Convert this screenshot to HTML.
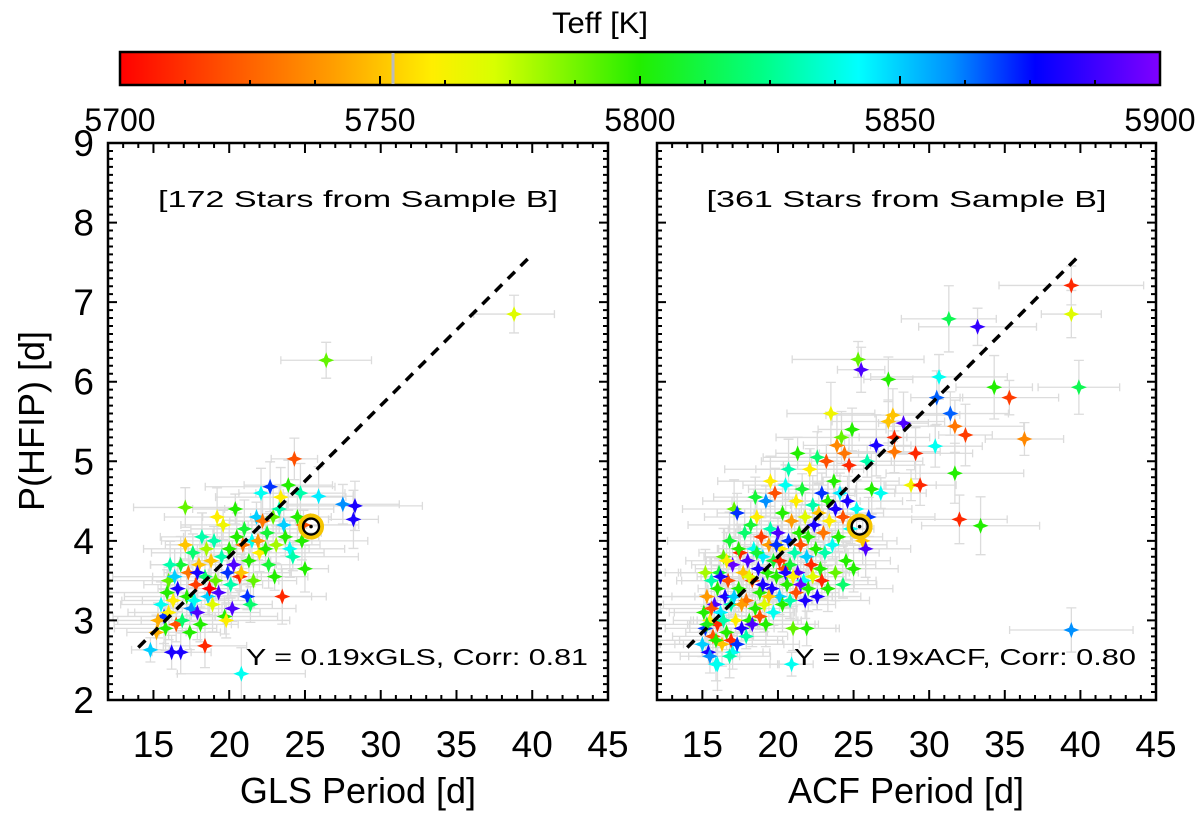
<!DOCTYPE html>
<html><head><meta charset="utf-8">
<style>
html,body{margin:0;padding:0;background:#fff;}
svg{display:block;font-family:"Liberation Sans",sans-serif;}
</style></head>
<body>
<svg id="fig" width="1200" height="820" viewBox="0 0 1200 820" xmlns="http://www.w3.org/2000/svg">
<defs>
<linearGradient id="cbgrad" x1="0" x2="1" y1="0" y2="0">
<stop offset="0" stop-color="#ff0000"/>
<stop offset="0.1" stop-color="#ff5000"/>
<stop offset="0.2" stop-color="#ff9a00"/>
<stop offset="0.3" stop-color="#ffee00"/>
<stop offset="0.36" stop-color="#d8ff00"/>
<stop offset="0.5" stop-color="#22ee00"/>
<stop offset="0.62" stop-color="#00ff88"/>
<stop offset="0.71" stop-color="#00ffff"/>
<stop offset="0.8" stop-color="#0090ff"/>
<stop offset="0.88" stop-color="#0000ff"/>
<stop offset="1" stop-color="#8000ff"/>
</linearGradient>
</defs>
<text x="600" y="33" font-size="30" text-anchor="middle" textLength="96" lengthAdjust="spacingAndGlyphs">Teff [K]</text>
<g id="cbar"></g>
<g id="panelL"></g>
<g id="panelR"></g>
<text transform="translate(44,421) rotate(-90)" font-size="36" text-anchor="middle">P(HFIP) [d]</text>
<text x="358" y="803" font-size="36" text-anchor="middle">GLS Period [d]</text>
<text x="906" y="803" font-size="36" text-anchor="middle">ACF Period [d]</text>
</svg>
<script>
// ---- data ----
const teffTicks = [5700, 5750, 5800, 5850, 5900];
const xTicks = [15, 20, 25, 30, 35, 40, 45];
const yTicks = [2, 3, 4, 5, 6, 7, 8, 9];
const fitSlope = 0.19;
const fitRange = [14, 40];
const sunPoint = [25.4, 4.18];

const glsX = [14.8,15.2,15.5,15.7,16.0,16.2,16.8,16.0,16.3,16.5,16.6,16.8,16.9,17.1,17.2,17.3,17.5,17.6,17.8,17.9,18.0,18.1,18.4,18.4,18.5,18.6,18.8,18.9,19.0,19.1,19.3,19.5,19.6,19.7,19.9,20.0,20.1,20.3,20.5,20.8,20.7,20.8,20.9,21.0,21.2,21.3,21.5,21.6,21.8,22.0,22.1,22.2,22.4,22.5,22.7,22.9,23.0,23.1,23.3,23.4,23.6,23.7,23.9,24.0,24.2,24.3,24.5,24.7,24.9,24.8,25.0,25.9,26.4,27.5,28.3,28.2,38.8,15.3,15.8,16.4,17.1,17.4,18.2,19.2,20.2,21.4,22.6,23.5,17.7,19.8,16.1,18.7,20.4,21.9,15.9,17.9];
const glsY = [2.63,2.85,3.2,3.05,3.5,2.6,2.6,3.1,3.25,2.95,3.4,3.7,3.0,4.42,3.3,3.6,3.15,3.85,3.45,3.1,3.7,2.95,2.68,3.55,3.9,3.3,3.75,3.2,4.0,3.5,3.35,3.8,4.2,3.05,3.6,3.9,3.45,3.7,4.05,2.33,3.55,3.6,3.95,4.15,3.3,3.75,4.0,3.5,4.3,3.85,4.6,4.25,3.9,4.1,4.68,4.3,3.55,3.95,4.4,4.55,4.2,4.05,4.7,3.9,3.8,5.03,4.3,4.6,4.2,4.0,3.65,4.56,6.27,4.46,4.44,4.27,6.85,3.0,2.9,3.55,3.95,2.85,4.05,4.3,3.15,3.2,3.7,3.3,3.25,3.0,3.7,3.4,4.4,4.0,3.35,3.6];
const glsT = [5850,5745,5840,5870,5790,5880,5880,5760,5760,5720,5880,5810,5820,5790,5800,5730,5860,5820,5715,5890,5750,5800,5710,5820,5780,5850,5750,5770,5830,5790,5890,5830,5765,5800,5870,5800,5830,5890,5800,5840,5710,5750,5730,5810,5870,5800,5840,5790,5850,5760,5840,5730,5800,5810,5870,5790,5800,5780,5830,5760,5850,5800,5800,5840,5830,5720,5800,5830,5720,5800,5800,5845,5790,5860,5880,5880,5770,5745,5800,5850,5750,5800,5830,5760,5890,5820,5810,5710,5840,5760,5830,5700,5800,5740,5800,5880];

const acfX = [15.0,15.1,15.2,15.3,15.4,15.5,15.6,15.7,15.8,15.9,16.0,16.0,16.1,16.2,16.3,16.4,16.5,16.6,16.7,16.8,16.9,17.0,17.0,17.1,17.2,17.3,17.4,17.5,17.6,17.7,17.8,17.9,18.0,18.1,18.2,18.3,18.4,18.5,18.6,18.7,18.8,18.9,19.0,19.1,19.2,19.3,19.4,19.5,19.6,19.7,19.8,19.9,20.0,20.1,20.2,20.3,20.4,20.5,20.6,20.7,20.8,20.9,21.0,21.1,21.2,21.3,21.4,21.5,21.6,21.7,21.8,21.9,22.0,22.1,22.2,22.3,22.4,22.5,22.6,22.7,22.8,22.9,23.0,23.1,23.2,23.3,23.4,23.5,23.6,23.7,23.8,23.9,24.0,24.1,24.2,24.3,24.4,24.5,24.6,24.7,24.8,24.9,25.0,25.2,25.3,25.5,25.6,25.8,25.9,26.0,26.2,26.5,26.8,27.3,27.6,28.3,27.7,27.7,29.1,31.7,28.8,29.4,32.0,33.4,39.4,39.4,39.9,31.3,33.2,30.65,30.5,34.3,35.3,31.4,31.7,32.4,36.3,30.4,39.4,16.0,20.9,21.9,15.2,15.6,15.9,16.2,16.4,16.6,16.9,17.1,17.4,17.6,17.9,18.1,18.3,18.6,18.8,19.0,19.2,19.4,19.7,19.9,20.1,20.3,20.5,20.8,21.0,21.2,21.5,21.8,22.0,22.3,22.6,22.9,23.3,23.8,24.3,18.5,19.5,20.7,21.3,15.5,16.8,15.3,17.3,27.3];
const acfY = [2.7,3.1,2.9,3.3,2.6,3.0,3.5,2.8,3.2,2.45,3.4,2.95,3.6,3.1,2.7,3.8,3.3,2.85,3.5,4.0,3.2,2.6,3.7,4.4,3.0,4.35,3.4,3.85,2.9,3.6,4.1,3.25,3.75,3.0,4.2,3.5,3.9,3.15,4.3,3.65,3.35,4.05,3.8,3.2,4.5,3.6,3.95,4.15,3.4,3.75,4.6,3.55,4.1,3.3,3.9,4.35,3.65,4.7,3.45,4.0,3.7,4.25,2.9,3.85,4.5,3.6,4.1,3.95,4.65,3.5,4.3,3.8,4.05,4.9,3.7,4.45,4.2,3.9,5.05,4.35,3.65,4.6,4.1,3.85,5.0,4.5,4.25,5.6,3.95,4.75,4.4,5.2,4.05,4.6,5.3,4.3,5.1,3.75,4.5,4.95,4.15,5.4,3.65,4.4,6.28,6.15,4.0,3.9,5.0,4.3,4.65,5.2,4.6,5.5,5.58,5.48,5.3,5.12,5.1,4.85,4.7,4.7,4.27,4.19,7.21,6.85,5.93,6.79,6.69,6.06,5.8,5.93,5.8,5.6,5.44,5.33,5.28,5.19,2.88,2.45,2.45,2.9,3.6,3.15,2.75,3.55,3.0,3.75,2.75,3.3,3.9,3.2,2.8,3.55,2.95,3.85,3.05,3.45,2.95,3.3,3.1,3.95,3.75,3.2,3.6,3.25,3.55,3.35,3.45,3.25,3.4,3.55,3.3,3.5,3.4,3.6,3.45,4.55,4.75,4.9,5.1,2.55,2.55,2.95,2.7,6.03];
const acfT = [5850,5800,5870,5740,5880,5760,5830,5720,5890,5840,5800,5710,5810,5845,5750,5790,5880,5800,5720,5810,5830,5840,5895,5790,5760,5870,5800,5710,5880,5750,5820,5730,5890,5800,5810,5720,5840,5800,5760,5880,5800,5715,5845,5770,5860,5800,5740,5830,5880,5810,5720,5800,5890,5850,5760,5800,5720,5840,5800,5870,5810,5740,5790,5830,5760,5890,5800,5720,5810,5840,5770,5850,5800,5760,5710,5830,5880,5800,5820,5750,5800,5870,5730,5830,5720,5800,5760,5765,5840,5800,5880,5735,5800,5845,5790,5720,5730,5800,5880,5710,5840,5800,5800,5840,5790,5890,5750,5890,5830,5870,5800,5880,5840,5750,5750,5890,5710,5730,5710,5800,5765,5710,5710,5800,5710,5770,5815,5815,5885,5840,5865,5800,5715,5865,5730,5715,5735,5840,5860,5840,5840,5800,5780,5720,5800,5880,5830,5760,5710,5850,5800,5740,5830,5770,5890,5810,5720,5880,5800,5750,5840,5870,5710,5800,5880,5830,5760,5720,5895,5880,5800,5770,5880,5710,5800,5790,5820,5810,5760,5830,5800,5860,5830,5805,5870,5800];

// ---- colour map (jet-like) ----
const cmapT = [5700,5720,5740,5760,5772,5800,5825,5842,5860,5875,5900];
const cmapC = [[255,0,0],[255,80,0],[255,154,0],[255,238,0],[216,255,0],[34,238,0],[0,255,136],[0,255,255],[0,144,255],[0,0,255],[128,0,255]];
function tcol(t){
  if(t<=cmapT[0]) return 'rgb('+cmapC[0]+')';
  for(let i=1;i<cmapT.length;i++){
    if(t<=cmapT[i]){const f=(t-cmapT[i-1])/(cmapT[i]-cmapT[i-1]);
      const c=cmapC[i-1].map((v,k)=>Math.round(v+(cmapC[i][k]-v)*f));
      return 'rgb('+c.join(',')+')';}
  }
  return 'rgb('+cmapC[cmapC.length-1]+')';
}

const NS='http://www.w3.org/2000/svg';
function mk(tag,attrs,parent){const e=document.createElementNS(NS,tag);for(const k in attrs)e.setAttribute(k,attrs[k]);parent.appendChild(e);return e;}

// ---- colorbar ----
const cb=document.getElementById('cbar');
const cbL=120,cbR=1160,cbT=52,cbB=85;
const tx=t=>cbL+(t-5700)/200*(cbR-cbL);
const cbRect=mk('rect',{x:cbL,y:cbT,width:cbR-cbL,height:cbB-cbT,fill:'url(#cbgrad)',stroke:'#000','stroke-width':2.5},cb);


const sunLine=mk('line',{x1:393,x2:393,y1:cbT+1,y2:cbB-1,stroke:'#bbb','stroke-width':3},cb);


for(let t=5700;t<=5900;t+=12.5){
  const major=(t%50===0);
  mk('line',{x1:tx(t),x2:tx(t),y1:cbB,y2:cbB-(major?9:5),stroke:'#000','stroke-width':2},cb);
}
teffTicks.forEach(t=>{
  const l=mk('text',{x:tx(t),y:131,'font-size':32,'text-anchor':'middle'},cb);
  l.textContent=t;
  
  
});

// ---- panels ----
function star(cx,cy,r){const a=r*0.28;
  return `M${cx},${cy-r} L${cx+a},${cy-a} L${cx+r},${cy} L${cx+a},${cy+a} L${cx},${cy+r} L${cx-a},${cy+a} L${cx-r},${cy} L${cx-a},${cy-a}Z`;}

function panel(g,L,R,X,Y,T,label,fitText,tag){
  const T0=143,B0=700,xmin=12,xmax=45,ymin=2,ymax=9;
  const sx=v=>L+(v-xmin)/(xmax-xmin)*(R-L);
  const sy=v=>B0-(v-ymin)/(ymax-ymin)*(B0-T0);
  const eg=mk('g',{stroke:'#dcdcdc','stroke-width':1.3,fill:'none'},g);
  
  
  X.forEach((x,i)=>{
    const xe=0.8+(i%5)*0.7+x*0.03, ye=0.1+(i%4)*0.06+Y[i]*0.02;
    const px=sx(x),py=sy(Y[i]);
    const x1=Math.max(L,sx(x-xe)),x2=Math.min(R,sx(x+xe));
    mk('path',{d:`M${x1},${py}H${x2}M${x1},${py-4}V${py+4}M${x2},${py-4}V${py+4}M${px},${sy(Y[i]-ye)}V${sy(Y[i]+ye)}M${px-5},${sy(Y[i]-ye)}H${px+5}M${px-5},${sy(Y[i]+ye)}H${px+5}`},eg);
  });
  X.forEach((x,i)=>{
    const p=mk('path',{d:star(sx(x),sy(Y[i]),8),fill:tcol(T[i])},g);
    
    
  });
  const fl=mk('line',{x1:sx(fitRange[0]),y1:sy(fitSlope*fitRange[0]),x2:sx(fitRange[1]),y2:sy(fitSlope*fitRange[1]),stroke:'#000','stroke-width':3.5,'stroke-dasharray':'10,8'},g);
  
  
  const sg=mk('g',{},g);
  
  
  const scx=sx(sunPoint[0]),scy=sy(sunPoint[1]);
  mk('circle',{cx:scx,cy:scy,r:11,fill:'none',stroke:'#f5c400','stroke-width':4},sg);
  mk('circle',{cx:scx,cy:scy,r:8,fill:'none',stroke:'#000','stroke-width':2.4},sg);
  mk('circle',{cx:scx,cy:scy,r:1.8,fill:'#000'},sg);
  const fr=mk('rect',{x:L,y:T0,width:R-L,height:B0-T0,fill:'none',stroke:'#000','stroke-width':2.5},g);
  
  
  let d='';
  for(let v=13;v<=45;v++){const maj=(v%5===0),len=maj?10:5,p=sx(v);d+=`M${p},${B0}v${-len}M${p},${T0}v${len}`;}
  for(let k=0;k<=70;k++){const v=2+k/10,maj=(k%10===0),len=maj?9:5,p=sy(v);d+=`M${L},${p}h${len}M${R},${p}h${-len}`;}
  mk('path',{d:d,stroke:'#000','stroke-width':2,fill:'none'},g);
  xTicks.forEach(v=>{
    const t=mk('text',{x:sx(v),y:757,'font-size':37,'text-anchor':'middle'},g);
    t.textContent=v;
    
    
  });
  if(tag==='gls'){
    yTicks.forEach(v=>{
      const t=mk('text',{x:94,y:sy(v)+13,'font-size':37,'text-anchor':'end'},g);
      t.textContent=v;
      
      
    });
  }
  const a=mk('text',{x:(L+R)/2,y:207,'font-size':23,'text-anchor':'middle',textLength:400,lengthAdjust:'spacingAndGlyphs'},g);
  a.textContent=label;
  
  
  const f=mk('text',{x:R-20,y:665,'font-size':23,'text-anchor':'end',textLength:342,lengthAdjust:'spacingAndGlyphs'},g);
  f.textContent=fitText;
  
  
}
panel(document.getElementById('panelL'),108,608,glsX,glsY,glsT,'[172 Stars from Sample B]','Y = 0.19xGLS, Corr: 0.81','gls');
panel(document.getElementById('panelR'),657,1156,acfX,acfY,acfT,'[361 Stars from Sample B]','Y = 0.19xACF, Corr: 0.80','acf');
</script>
</body></html>
